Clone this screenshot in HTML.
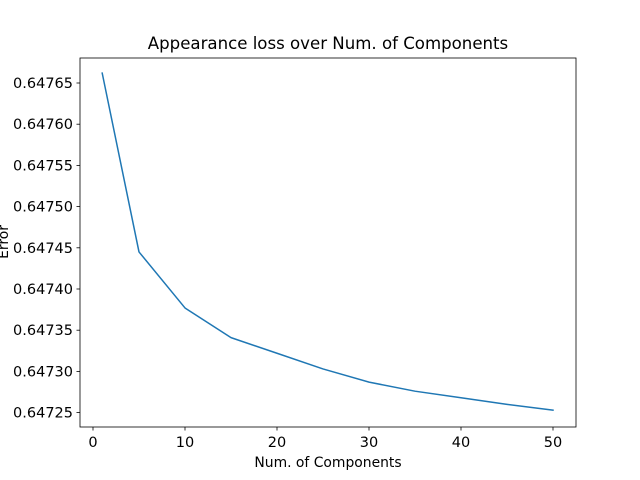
<!DOCTYPE html>
<html><head><meta charset="utf-8">
<style>
body{margin:0;background:#fff;}
svg{display:block;font-family:"DejaVu Sans","Liberation Sans",sans-serif;}
</style></head>
<body>
<svg id="chart" width="640" height="480" viewBox="0 0 640 480">
<rect width="640" height="480" fill="#fff"/>
<text x="328" y="49" font-size="16.6" text-anchor="middle">Appearance loss over Num. of Components</text>
<g id="xticks"></g>
<g id="yticks"></g>
<polyline id="line" fill="none" stroke="#1f77b4" stroke-width="1.5" stroke-linejoin="round" stroke-linecap="square"/>
<rect x="80" y="58" width="496" height="369" fill="none" stroke="#000" stroke-width="0.8"/>
<text x="328" y="467" font-size="13.9" text-anchor="middle">Num. of Components</text>
<text x="0" y="0" font-size="13.9" text-anchor="middle" transform="translate(8,242) rotate(-90)">Error</text>
</svg>
<script>
const components = [1,5,10,15,20,25,30,35,40,45,50];
const lossValues = [0.647662,0.647445,0.647377,0.647341,0.647322,0.647303,0.647287,0.647276,0.647268,0.647260,0.647253];
const xTickValues = [0,10,20,30,40,50];
const yTickValues = [0.64725,0.64730,0.64735,0.64740,0.64745,0.64750,0.64755,0.64760,0.64765];
const yTickLabels = ["0.64725","0.64730","0.64735","0.64740","0.64745","0.64750","0.64755","0.64760","0.64765"];

function xScale(v){ return 93 + (v - 0) * (553 - 93) / 50; }
function yScale(v){ return 83 + (0.64765 - v) / 0.00005 * 41.2; }

const NS = "http://www.w3.org/2000/svg";
const line = document.getElementById('line');
line.setAttribute('points', components.map((c,i)=>xScale(c).toFixed(2)+','+yScale(lossValues[i]).toFixed(2)).join(' '));

const xg = document.getElementById('xticks');
xTickValues.forEach(v=>{
  const x = xScale(v);
  const t = document.createElementNS(NS,'line');
  
  
  t.setAttribute('x1',x); t.setAttribute('x2',x); t.setAttribute('y1',427); t.setAttribute('y2',430.5);
  t.setAttribute('stroke','#000'); t.setAttribute('stroke-width','0.8');
  xg.appendChild(t);
  const l = document.createElementNS(NS,'text');
  
  
  l.setAttribute('x',x); l.setAttribute('y',447); l.setAttribute('font-size','14.5'); l.setAttribute('text-anchor','middle');
  l.textContent = String(v);
  xg.appendChild(l);
});
const yg = document.getElementById('yticks');
yTickValues.forEach((v,i)=>{
  const y = yScale(v);
  const t = document.createElementNS(NS,'line');
  
  
  t.setAttribute('x1',76.5); t.setAttribute('x2',80); t.setAttribute('y1',y); t.setAttribute('y2',y);
  t.setAttribute('stroke','#000'); t.setAttribute('stroke-width','0.8');
  yg.appendChild(t);
  const l = document.createElementNS(NS,'text');
  
  
  l.setAttribute('x',73); l.setAttribute('y',y+5); l.setAttribute('font-size','14.5'); l.setAttribute('text-anchor','end');
  l.textContent = yTickLabels[i];
  yg.appendChild(l);
});
</script>
</body></html>
